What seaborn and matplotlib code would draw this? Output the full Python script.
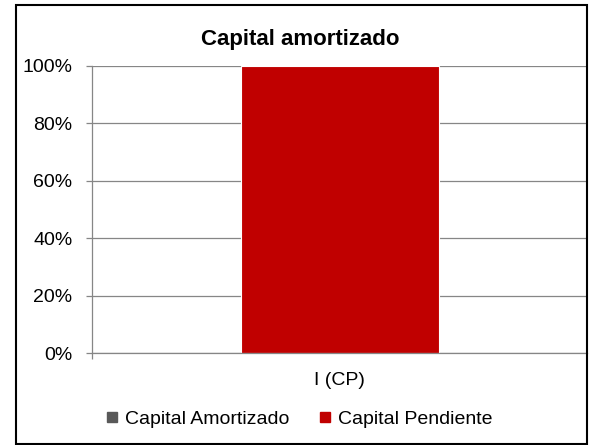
import matplotlib
matplotlib.use("Agg")
import matplotlib.pyplot as plt
import seaborn as sns
import pandas as pd
from matplotlib.patches import Rectangle
from matplotlib.lines import Line2D
from matplotlib.ticker import PercentFormatter

categories = ["I (CP)"]
capital_amortizado = [0]
capital_pendiente = [100]
series_names = ["Capital Amortizado", "Capital Pendiente"]
colors = ["#595959", "#C00000"]
yticks = [0, 20, 40, 60, 80, 100]

sns.set_theme(style="white")
plt.rcParams["font.family"] = ["Liberation Sans", "DejaVu Sans"]
plt.rcParams["text.color"] = "black"

df = pd.DataFrame({
    "cat": categories,
    "amort": capital_amortizado,
    "total": [a + p for a, p in zip(capital_amortizado, capital_pendiente)],
})

fig = plt.figure(figsize=(5.92, 4.45), dpi=100)
ax = fig.add_axes([92/592, 1-353/445, (587-92)/592, (353-66)/445])

sns.barplot(data=df, x="cat", y="total", color=colors[1], width=0.4,
            saturation=1, ax=ax, edgecolor="white", linewidth=0.8)
sns.barplot(data=df, x="cat", y="amort", color=colors[0], width=0.4,
            saturation=1, ax=ax, linewidth=0)

ax.set_xlim(-0.5, 0.5)
ax.set_ylim(0, 100)
ax.set_yticks(yticks)
ax.yaxis.set_major_formatter(PercentFormatter(decimals=0))
ax.set_xlabel("")
ax.set_ylabel("")
ax.grid(axis="y", color="#868686", linewidth=0.9)
ax.set_axisbelow(True)
for s in ["top", "right"]:
    ax.spines[s].set_visible(False)
for s in ["left", "bottom"]:
    ax.spines[s].set_color("#868686")
    ax.spines[s].set_linewidth(0.9)
ax.tick_params(axis="y", which="major", length=4, color="#868686", width=0.9,
               labelsize=14, pad=10, left=True, labelcolor="black")
ax.set_xticks([-0.5, 0])
ax.set_xticklabels(["", categories[0]])
ax.tick_params(axis="x", length=4, color="#868686", width=0.9, bottom=True,
               labelsize=14, pad=10, labelcolor="black")
ax.xaxis.get_major_ticks()[1].tick1line.set_visible(False)

fig.text(300/592, 1-40/445, "Capital amortizado", ha="center", va="center",
         fontsize=16, fontweight="bold", color="black")

handles = [Line2D([0], [0], marker="s", linestyle="none", markersize=6.5,
                  markerfacecolor=c, markeredgecolor=c) for c in colors]
fig.legend(handles, series_names, loc="center", bbox_to_anchor=(300/592, 1-419/445),
           ncol=2, frameon=False, fontsize=14, handlelength=0.5,
           handletextpad=0.4, columnspacing=1.6, borderpad=0, labelcolor="black")

fig.patches.append(Rectangle((16/592, 1/445), (587-16)/592, (440-1)/445,
                             transform=fig.transFigure, fill=False,
                             edgecolor="black", linewidth=1.5))

fig.savefig("out.png", dpi=100)
